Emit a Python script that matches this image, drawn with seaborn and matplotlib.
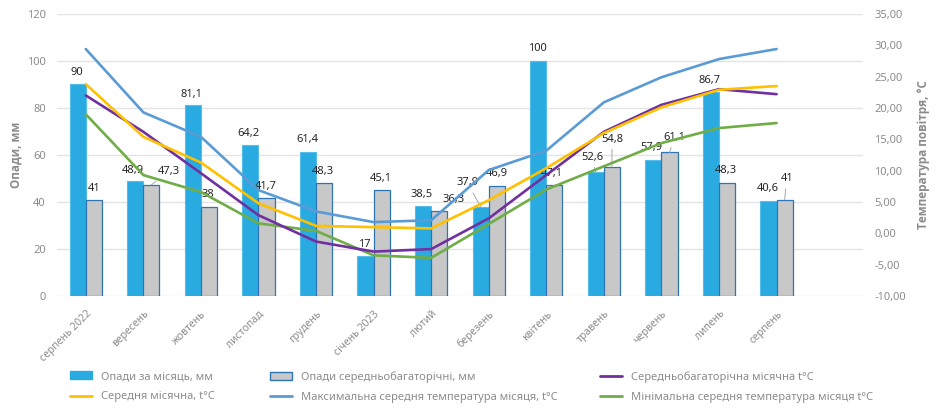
import numpy as np
import pandas as pd
import matplotlib
matplotlib.use("Agg")
import matplotlib.pyplot as plt
from matplotlib.patches import Patch
from matplotlib.lines import Line2D
from matplotlib.ticker import FuncFormatter, MultipleLocator
import seaborn as sns

# ---------------- data ----------------
months = ['серпень 2022', 'вересень', 'жовтень', 'листопад', 'грудень', 'січень 2023',
          'лютий', 'березень', 'квітень', 'травень', 'червень', 'липень', 'серпень']
precip = [90, 48.9, 81.1, 64.2, 61.4, 17, 38.5, 37.9, 100, 52.6, 57.9, 86.7, 40.6]
precip_norm = [41, 47.3, 38, 41.7, 48.3, 45.1, 36.3, 46.9, 47.1, 54.8, 61.1, 48.3, 41]
t_norm = [22.0, 16.2, 9.6, 2.9, -1.3, -2.9, -2.5, 2.4, 9.3, 16.2, 20.5, 23.0, 22.2]
t_mean = [23.8, 15.4, 11.3, 4.8, 1.2, 1.0, 0.8, 5.3, 10.4, 16.0, 20.1, 22.9, 23.5]
t_max = [29.4, 19.3, 15.4, 6.9, 3.5, 1.8, 2.1, 10.1, 13.2, 20.9, 24.9, 27.8, 29.4]
t_min = [19.0, 9.3, 6.6, 1.6, 0.4, -3.5, -3.9, 1.5, 7.0, 10.7, 14.4, 16.8, 17.6]

s_precip = 'Опади за місяць, мм'
s_norm = 'Опади середньобагаторічні, мм'
l_norm = 'Середньобагаторічна місячна t°C'
l_mean = 'Середня місячна, t°C'
l_max = 'Максимальна середня температура місяця, t°C'
l_min = 'Мінімальна середня температура місяця t°C'

# label offsets in pixels (dx, dy up) - layout only
blue_off = [(-1, 12), (-2, 11), (-1, 11), (-2, 12), (-1, 12), (-1, 12), (-2, 11),
            (-13, 24), (-1, 12), (-4, 15), (-2, 12), (-1, 12), (-1, 12)]
gray_off = [(0, 11), (17, 13), (-1, 12), (-1, 12), (-1, 11), (-1, 12), (14, 11),
            (0, 12), (-3, 12), (0, 28), (5, 15), (-1, 12), (2, 21)]
blue_leader = [False] * 7 + [True, False, True, False, False, False]
gray_leader = [False, True, False, False, False, False, False, False, False, True, True, False, True]

# ---------------- style ----------------
sns.set_theme(style="white")
plt.rcParams['font.family'] = ['Noto Sans', 'DejaVu Sans']

C_BLUE = '#29ABE2'
C_BLUE_EDGE = '#55BDE9'
C_GRAY = '#C8C8C8'
C_GRAY_EDGE = '#2E75B6'
C_PURPLE = '#7030A0'
C_YELLOW = '#FFC000'
C_LBLUE = '#5B9BD5'
C_GREEN = '#70AD47'
TXT = '#8C8C8C'

fig, ax = plt.subplots(figsize=(9.39, 4.09), dpi=100)
fig.subplots_adjust(left=0.0607, right=0.919, top=0.966, bottom=0.276)

df = pd.DataFrame({
    'month': months * 2,
    'value': precip + precip_norm,
    'series': [s_precip] * len(months) + [s_norm] * len(months),
})
sns.barplot(data=df, x='month', y='value', hue='series', order=months,
            hue_order=[s_precip, s_norm], palette=[C_BLUE, C_GRAY],
            saturation=1, width=0.56, ax=ax, legend=False)

for patch in ax.containers[0]:
    patch.set_edgecolor(C_BLUE_EDGE)
    patch.set_linewidth(0.8)
for patch in ax.containers[1]:
    patch.set_edgecolor(C_GRAY_EDGE)
    patch.set_linewidth(0.9)

ax.set_xlim(-0.5, 13.5)
ax.set_ylim(0, 120)
ax.yaxis.set_major_locator(MultipleLocator(20))
ax.yaxis.grid(True, color='#E4E4E4', lw=1)
ax.set_axisbelow(True)
for sp in ax.spines.values():
    sp.set_visible(False)
ax.set_xlabel('')
ax.set_ylabel('Опади, мм', color=TXT, fontsize=8.5, fontweight='bold', labelpad=3,
              family=['Open Sans', 'DejaVu Sans'])
ax.tick_params(axis='y', colors=TXT, labelsize=8, length=0, pad=8)
ax.set_xticks(range(len(months)))
ax.set_xticklabels(months, rotation=45, ha='right', rotation_mode='anchor',
                   color=TXT, fontsize=7.5)
ax.tick_params(axis='x', length=0, pad=9)


def fmt(v):
    return f"{v:g}".replace('.', ',')


def label_bars(container, values, offs, leaders):
    for patch, v, (dx, dy), ld in zip(container, values, offs, leaders):
        x = patch.get_x() + patch.get_width() / 2
        y = patch.get_height()
        kw = {}
        if ld:
            kw['arrowprops'] = dict(arrowstyle='-', color='#A6A6A6', lw=0.7,
                                    shrinkA=1, shrinkB=0)
        ax.annotate(fmt(v), xy=(x, y), xytext=(dx, dy), textcoords='offset pixels',
                    ha='center', va='center', fontsize=8, color='#262626', **kw)


label_bars(ax.containers[0], precip, blue_off, blue_leader)
label_bars(ax.containers[1], precip_norm, gray_off, gray_leader)

# ---------------- temperature lines ----------------
ax2 = ax.twinx()
xpos = np.arange(len(months))
for vals, col in [(t_max, C_LBLUE), (t_min, C_GREEN), (t_norm, C_PURPLE), (t_mean, C_YELLOW)]:
    sns.lineplot(x=xpos, y=vals, ax=ax2, color=col, lw=1.9)
ax2.set_ylim(-10, 35)
ax2.yaxis.set_major_locator(MultipleLocator(5))
ax2.yaxis.set_major_formatter(FuncFormatter(lambda v, p: f"{v:.2f}".replace('.', ',')))
ax2.tick_params(axis='y', colors=TXT, labelsize=8, length=0, pad=8)
ax2.set_ylabel('Температура повітря, °С', color=TXT, fontsize=8.5, fontweight='bold',
               labelpad=8, family=['Open Sans', 'DejaVu Sans'])
for sp in ax2.spines.values():
    sp.set_visible(False)
ax2.set_xlim(-0.5, 13.5)

# ---------------- legend ----------------
h_precip = Patch(facecolor=C_BLUE, edgecolor=C_BLUE)
h_norm = Patch(facecolor=C_GRAY, edgecolor=C_GRAY_EDGE, linewidth=1)
h_lnorm = Line2D([], [], color=C_PURPLE, lw=2)
h_mean = Line2D([], [], color=C_YELLOW, lw=2)
h_max = Line2D([], [], color=C_LBLUE, lw=2)
h_min = Line2D([], [], color=C_GREEN, lw=2)

cols = [([h_precip, h_mean], [s_precip, l_mean], 70),
        ([h_norm, h_max], [s_norm, l_max], 270),
        ([h_lnorm, h_min], [l_norm, l_min], 600)]
for hs, ls, px in cols:
    leg = fig.legend(hs, ls, loc='upper left', bbox_to_anchor=(px / 939, 1 - 371 / 409),
                     frameon=False, fontsize=8, labelcolor=TXT, handlelength=2.0,
                     handleheight=0.7, handletextpad=0.8, labelspacing=0.85,
                     borderpad=0, borderaxespad=0)

fig.savefig('out.png', dpi=100)
